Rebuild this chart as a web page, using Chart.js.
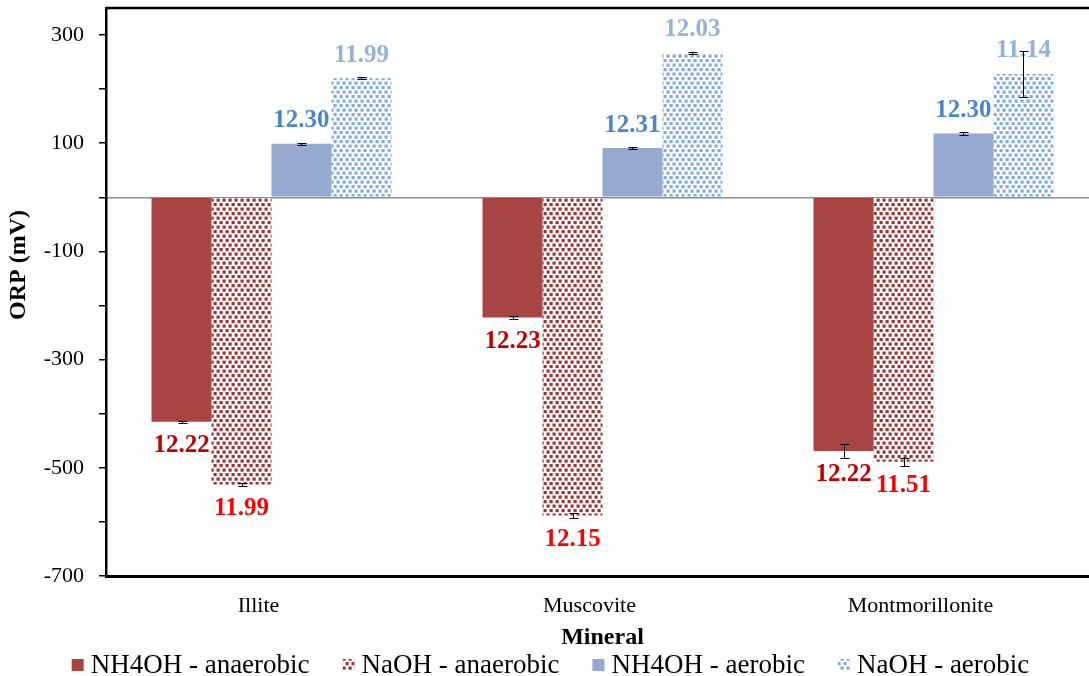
<!DOCTYPE html>
<html>
<head>
<meta charset="utf-8">
<script src="https://cdn.jsdelivr.net/npm/chart.js@4.4.1/dist/chart.umd.min.js"></script>
<style>
  html, body { margin: 0; padding: 0; background: #fff; overflow: hidden; }
  #wrap { width: 1110px; height: 676px; }
</style>
</head>
<body>
<div id="wrap"><canvas id="c" width="1110" height="676"></canvas></div>
<script>
// ORP by mineral and treatment (mV); labels above/below each bar give the pH
const minerals = ['Illite', 'Muscovite', 'Montmorillonite'];
const seriesNames = ['NH4OH - anaerobic', 'NaOH - anaerobic', 'NH4OH - aerobic', 'NaOH - aerobic'];

const nh4ohAnaerobic = [-415, -222, -469];
const naohAnaerobic  = [-531, -588, -489];
const nh4ohAerobic   = [99, 91, 118];
const naohAerobic    = [220, 267, 228];

const nh4ohAnaerobicErr = [2, 2, 13];
const naohAnaerobicErr  = [2, 4, 7];
const nh4ohAerobicErr   = [2, 2, 2];
const naohAerobicErr    = [2, 2, 43];

const nh4ohAnaerobicPH = ['12.22', '12.23', '12.22'];
const naohAnaerobicPH  = ['11.99', '12.15', '11.51'];
const nh4ohAerobicPH   = ['12.30', '12.31', '12.30'];
const naohAerobicPH    = ['11.99', '12.03', '11.14'];

const yTicks = [-700, -600, -500, -400, -300, -200, -100, 0, 100, 200, 300];
const yTickLabels = ['-700', '', '-500', '', '-300', '', '-100', '', '100', '', '300'];

const yTitle = 'ORP (mV)';
const xTitle = 'Mineral';

const SERIF = "'Times New Roman', 'Liberation Serif', serif";

const canvas = document.getElementById('c');
const ctx = canvas.getContext('2d');

// staggered small-square fill used for the NaOH series
function dotPattern(color) {
  const t = document.createElement('canvas');
  t.width = 6; t.height = 9;
  const g = t.getContext('2d');
  g.fillStyle = '#ffffff';
  g.fillRect(0, 0, 6, 9);
  g.fillStyle = color;
  g.fillRect(0.5, 0.5, 3.2, 3.2);
  g.fillRect(3.5, 5.0, 3.2, 3.2);
  g.fillRect(-2.5, 5.0, 3.2, 3.2);
  return ctx.createPattern(t, 'repeat');
}

const seriesValues = [nh4ohAnaerobic, naohAnaerobic, nh4ohAerobic, naohAerobic];
const seriesErr = [nh4ohAnaerobicErr, naohAnaerobicErr, nh4ohAerobicErr, naohAerobicErr];
const seriesPH = [nh4ohAnaerobicPH, naohAnaerobicPH, nh4ohAerobicPH, naohAerobicPH];
const seriesFill = ['#A84442', dotPattern('#9E3432'), '#95A9D1', dotPattern('#82ABE0')];
const labelColors = ['#C00000', '#FF0000', '#4A86CC', '#95B3D7'];

const datasets = seriesNames.map((name, i) => ({
  label: name,
  data: seriesValues[i],
  backgroundColor: seriesFill[i],
  borderWidth: 0,
  barPercentage: 1.0,
  categoryPercentage: 0.725
}));

const annotate = {
  id: 'annotate',
  // pH labels, then error bars on top of them
  afterDatasetsDraw(chart) {
    const c = chart.ctx;
    const y = chart.scales.y;
    c.save();
    c.font = 'bold 25px ' + SERIF;
    c.textAlign = 'center';
    c.textBaseline = 'middle';
    chart.data.datasets.forEach((ds, i) => {
      const meta = chart.getDatasetMeta(i);
      meta.data.forEach((bar, j) => {
        const v = ds.data[j];
        const ty = v >= 0 ? bar.y - 23 : bar.y + 24;
        c.fillStyle = labelColors[i];
        c.fillText(seriesPH[i][j], bar.x, ty);
      });
    });
    c.strokeStyle = '#000';
    c.lineWidth = 1;
    chart.data.datasets.forEach((ds, i) => {
      const meta = chart.getDatasetMeta(i);
      meta.data.forEach((bar, j) => {
        const v = ds.data[j];
        const e = seriesErr[i][j];
        const y1 = Math.round(y.getPixelForValue(v + e)) + 0.5;
        const y2 = Math.round(y.getPixelForValue(v - e)) + 0.5;
        const x = Math.round(bar.x) + 0.5;
        c.beginPath();
        c.moveTo(x, y1); c.lineTo(x, y2);
        c.moveTo(x - 4, y1); c.lineTo(x + 5, y1);
        c.moveTo(x - 4, y2); c.lineTo(x + 5, y2);
        c.stroke();
      });
    });
    c.restore();
  },
  // top frame line, y-axis title and the legend row
  afterDraw(chart) {
    const a = chart.chartArea;
    const c = chart.ctx;
    c.save();
    c.strokeStyle = '#000';
    c.lineWidth = 2.5;
    c.beginPath();
    c.moveTo(a.left, a.top);
    c.lineTo(a.right + 20, a.top);
    c.stroke();

    c.save();
    c.translate(19, 265);
    c.rotate(-Math.PI / 2);
    c.font = 'bold 24px ' + SERIF;
    c.fillStyle = '#000';
    c.textAlign = 'center';
    c.textBaseline = 'middle';
    c.fillText(yTitle, 0, 0);
    c.restore();

    c.font = '27px ' + SERIF;
    c.textBaseline = 'middle';
    c.textAlign = 'left';
    const box = 12, gap = 7, spacing = 33;
    const widths = seriesNames.map(n => c.measureText(n).width);
    const total = widths.reduce((s, w) => s + box + gap + w, 0) + spacing * (seriesNames.length - 1);
    let x = 550.5 - total / 2;
    const cy = 665;
    seriesNames.forEach((n, i) => {
      c.fillStyle = seriesFill[i];
      c.fillRect(x, cy - box / 2, box, box);
      c.fillStyle = '#000';
      c.fillText(n, x + box + gap, cy + 1);
      x += box + gap + widths[i] + spacing;
    });
    c.restore();
  }
};

new Chart(canvas, {
  type: 'bar',
  data: { labels: minerals, datasets },
  options: {
    responsive: false,
    animation: false,
    layout: { padding: { top: 8, right: 11, left: 0, bottom: 24 } },
    plugins: {
      legend: { display: false },
      tooltip: { enabled: false }
    },
    scales: {
      x: {
        afterFit(scale) { scale.height = 76; },
        grid: { display: true, drawOnChartArea: false, drawTicks: false },
        border: { display: true, color: '#000', width: 3 },
        ticks: { font: { family: SERIF, size: 22 }, color: '#000', padding: 17, labelOffset: -13 },
        title: {
          display: true, text: xTitle, color: '#000',
          font: { family: SERIF, size: 24, weight: 'bold' },
          padding: { top: 0, bottom: 0 }
        }
      },
      y: {
        min: -700,
        max: 350,
        afterBuildTicks(scale) {
          scale.ticks = yTicks.map(v => ({ value: v }));
        },
        afterFit(scale) {
          scale.width = 106;
          scale.paddingTop = 0;
          scale.paddingBottom = 0;
        },
        grid: {
          color: (c) => (c.tick && c.tick.value === 0 ? '#8c8c8c' : 'rgba(0,0,0,0)'),
          lineWidth: 1.5,
          tickColor: '#000',
          tickLength: 7,
          tickWidth: 1.5
        },
        border: { display: true, color: '#000', width: 2.5 },
        ticks: {
          font: { family: SERIF, size: 22 },
          color: '#000',
          padding: 15,
          callback: (v) => yTickLabels[yTicks.indexOf(v)] ?? ''
        },
        title: { display: false }
      }
    }
  },
  plugins: [annotate]
});
</script>
</body>
</html>
